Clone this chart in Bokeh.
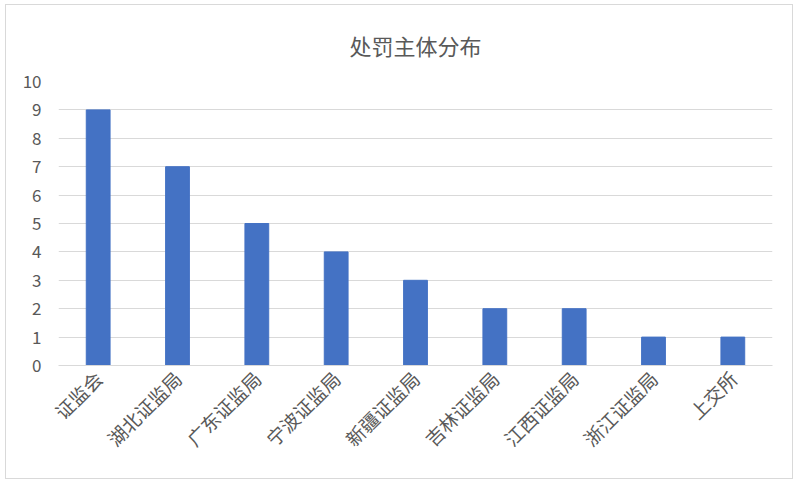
import math
from bokeh.plotting import figure
from bokeh.models import ColumnDataSource, FactorRange, FixedTicker
from bokeh.embed import file_html
from bokeh.resources import INLINE

title_text = "处罚主体分布"
categories = ["证监会", "湖北证监局", "广东证监局", "宁波证监局", "新疆证监局",
              "吉林证监局", "江西证监局", "浙江证监局", "上交所"]
counts = [9, 7, 5, 4, 3, 2, 2, 1, 1]
y_ticks = [0, 1, 2, 3, 4, 5, 6, 7, 8, 9, 10]

FONT = "Noto Sans CJK SC"
GRAY = "#595959"

src = ColumnDataSource(data=dict(cat=categories, val=counts))

p = figure(width=788, height=475, output_backend="svg", toolbar_location=None,
           x_range=FactorRange(factors=categories, range_padding=0),
           y_range=(0, 10), title=title_text,
           min_border_left=52, min_border_right=22, min_border_top=76,
           min_border_bottom=115)

p.vbar(x="cat", top="val", width=0.3, source=src, color="#4472C4")

p.title.align = "center"
p.title.text_font = FONT
p.title.text_font_size = "22px"
p.title.text_color = GRAY
p.title.text_font_style = "normal"
p.title.standoff = 41

p.outline_line_color = None
p.background_fill_color = "white"
p.border_fill_color = "white"
p.styles = {"border": "1px solid #d9d9d9", "margin-left": "5px", "margin-top": "4px"}

p.xgrid.grid_line_color = None
p.ygrid.grid_line_color = "#d9d9d9"
p.ygrid.grid_line_width = 1

p.yaxis.ticker = FixedTicker(ticks=y_ticks)
p.yaxis.axis_line_color = None
p.yaxis.major_tick_line_color = None
p.yaxis.minor_tick_line_color = None
p.yaxis.major_tick_out = 0
p.yaxis.major_label_text_font = FONT
p.yaxis.major_label_text_font_size = "17px"
p.yaxis.major_label_text_color = GRAY
p.yaxis.major_label_standoff = 17

p.xaxis.axis_line_color = "#d9d9d9"
p.xaxis.major_tick_line_color = None
p.xaxis.minor_tick_line_color = None
p.xaxis.major_tick_out = 0
p.xaxis.major_label_orientation = math.pi / 4
p.xaxis.major_label_text_font = FONT
p.xaxis.major_label_text_font_size = "19px"
p.xaxis.major_label_text_color = GRAY
p.xaxis.major_label_standoff = 9

open("out.html", "w").write(file_html(p, INLINE))
